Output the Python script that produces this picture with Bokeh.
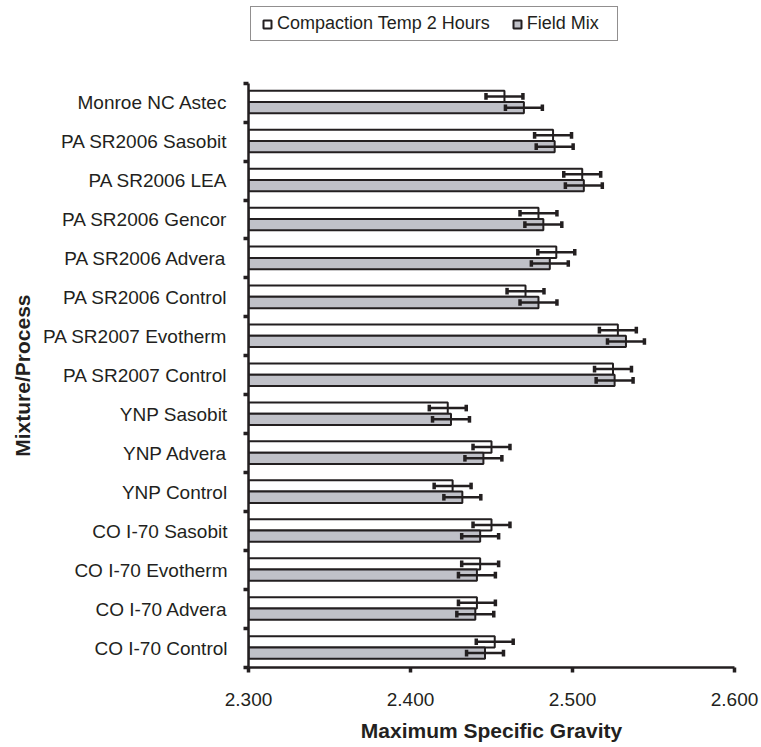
from bokeh.plotting import figure
from bokeh.models import (Range1d, FixedTicker, NumeralTickFormatter, Legend, LegendItem,
                          ColumnDataSource, Title)
from bokeh.embed import file_html
from bokeh.resources import INLINE

categories = ["Monroe NC Astec", "PA SR2006 Sasobit", "PA SR2006 LEA", "PA SR2006 Gencor",
              "PA SR2006 Advera", "PA SR2006 Control", "PA SR2007 Evotherm", "PA SR2007 Control",
              "YNP Sasobit", "YNP Advera", "YNP Control", "CO I-70 Sasobit", "CO I-70 Evotherm",
              "CO I-70 Advera", "CO I-70 Control"]
compaction_2h = [2.458, 2.488, 2.506, 2.479, 2.490, 2.471, 2.528, 2.525,
                 2.423, 2.450, 2.426, 2.450, 2.443, 2.441, 2.452]
field_mix = [2.470, 2.489, 2.507, 2.482, 2.486, 2.479, 2.533, 2.526,
             2.425, 2.445, 2.432, 2.443, 2.441, 2.440, 2.446]
compaction_err = [0.0114] * 15
field_err = [0.0114] * 15
x_ticks = [2.3, 2.4, 2.5, 2.6]
series_names = ["Compaction Temp 2 Hours", "Field Mix"]

INK = "#231f20"
GREY = "#c0c1c8"
FONT = "Liberation Sans"
n = len(categories)

# the frame reaches the top of the canvas so that the legend (drawn inside it) is not clipped;
# the category rows occupy 0..n, the space above them holds the legend
TOP_PAD = 2.122
p = figure(width=761, height=747, output_backend="svg", toolbar_location=None,
           x_range=Range1d(2.3, 2.6), y_range=Range1d(n, -TOP_PAD),
           min_border_left=248, min_border_right=27, min_border_top=0, min_border_bottom=80)
p.outline_line_color = None
p.xgrid.visible = False
p.ygrid.visible = False
p.background_fill_color = "white"
p.border_fill_color = "white"

def series(vals, errs, offset, fill):
    ys = [i + offset for i in range(n)]
    src = ColumnDataSource(dict(y=ys, v=vals, lo=[v - e for v, e in zip(vals, errs)],
                                hi=[v + e for v, e in zip(vals, errs)],
                                c0=[y - 0.085 for y in ys], c1=[y + 0.085 for y in ys]))
    p.hbar(y="y", left=2.3, right="v", height=0.29, source=src,
           fill_color=fill, line_color=INK, line_width=2)
    p.segment(x0="lo", x1="hi", y0="y", y1="y", source=src, line_color=INK, line_width=2.5)
    p.segment(x0="lo", x1="lo", y0="c0", y1="c1", source=src, line_color=INK, line_width=3.5)
    p.segment(x0="hi", x1="hi", y0="c0", y1="c1", source=src, line_color=INK, line_width=3.5)
    # zero-size markers at the bar ends: they only provide the legend swatch
    key = p.scatter(x="v", y="y", source=src, marker="square", size=0,
                    fill_color=fill, line_color=INK, line_width=2)
    return key

k1 = series(compaction_2h, compaction_err, 0.34, "white")
k2 = series(field_mix, field_err, 0.63, GREY)

# axes
xa = p.xaxis[0]
xa.ticker = FixedTicker(ticks=x_ticks, minor_ticks=[])
xa.formatter = NumeralTickFormatter(format="0.000")
xa.axis_label = "Maximum Specific Gravity"
ya = p.yaxis[0]
ya.ticker = FixedTicker(ticks=[i + 0.5 for i in range(n)], minor_ticks=list(range(n + 1)))
ya.major_label_overrides = {i + 0.5: c for i, c in enumerate(categories)}
ya.bounds = (0, n)
for ax in (xa, ya):
    ax.axis_line_color = INK
    ax.axis_line_width = 2.5
    ax.major_label_text_font = FONT
    ax.major_label_text_font_size = "19px"
    ax.major_label_text_color = INK
    ax.axis_label_text_font = FONT
    ax.axis_label_text_font_size = "21px"
    ax.axis_label_text_font_style = "bold"
    ax.axis_label_text_color = INK
xa.major_tick_line_color = INK
xa.major_tick_line_width = 3.5
xa.major_tick_out = 5
xa.major_tick_in = 0
xa.major_label_standoff = 20
xa.axis_label_standoff = 10
ya.major_tick_line_color = None
ya.major_tick_out = 0
ya.major_tick_in = 0
ya.minor_tick_line_color = INK
ya.minor_tick_line_width = 3.5
ya.minor_tick_out = 5
ya.minor_tick_in = 0
ya.major_label_standoff = 16

ytitle = Title(text="Mixture/Process", align="right", offset=294, vertical_align="top",
               standoff=10, text_font=FONT, text_font_size="21px", text_font_style="bold",
               text_color=INK)
p.add_layout(ytitle, "left")

legend = Legend(items=[LegendItem(label=series_names[0], renderers=[k1]),
                       LegendItem(label=series_names[1], renderers=[k2])],
                orientation="horizontal", location=(2, 626),
                glyph_width=20, glyph_height=20, label_standoff=0, spacing=17,
                padding=6, label_height=20, label_width=84,
                border_line_color=INK, border_line_width=1.5,
                background_fill_color="white", label_text_font=FONT,
                label_text_font_size="18px", label_text_color=INK)
p.add_layout(legend)

open("out.html", "w").write(file_html(p, INLINE))
